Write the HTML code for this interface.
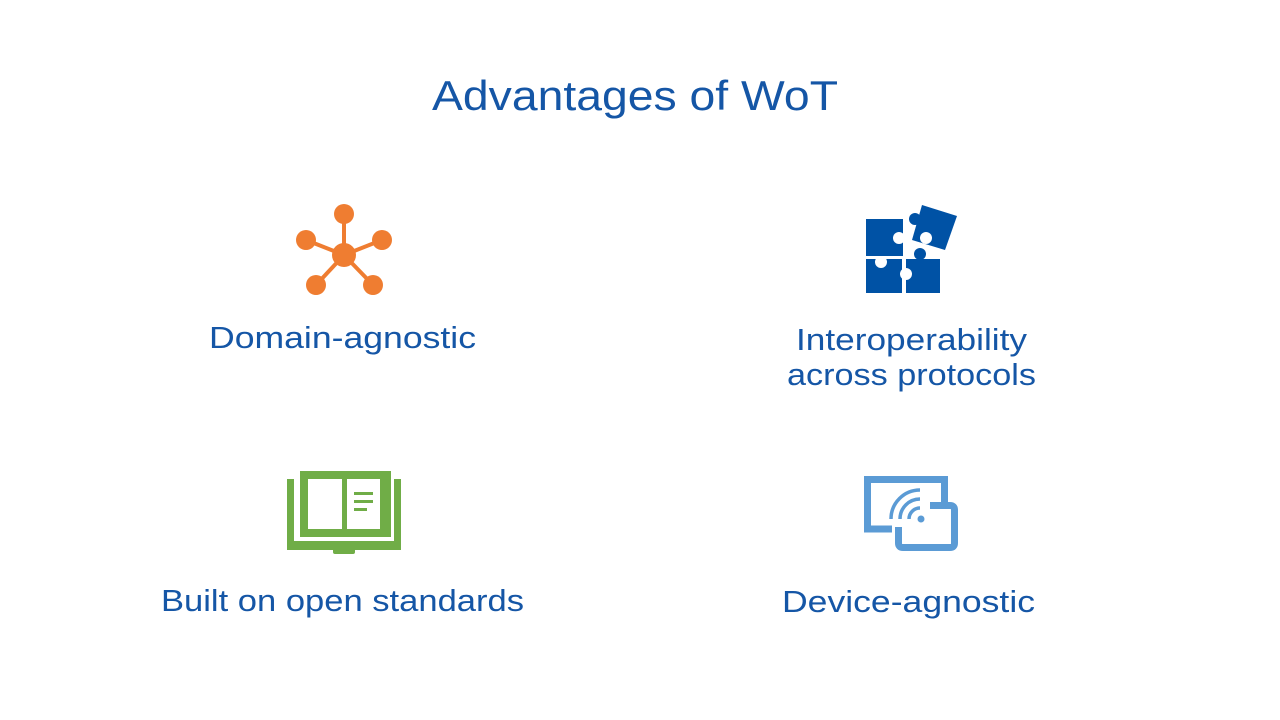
<!DOCTYPE html>
<html><head><meta charset="utf-8"><style>
html,body{margin:0;padding:0;background:#fff;width:1280px;height:720px;overflow:hidden}
svg{display:block}
text{font-family:"Liberation Sans",sans-serif;fill:#1556a6}
</style></head><body>
<svg width="1280" height="720" viewBox="0 0 1280 720">
<text x="432" y="110" font-size="42" textLength="406" lengthAdjust="spacingAndGlyphs">Advantages of WoT</text>

<!-- network -->
<g fill="#ef7d31" stroke="#ef7d31" stroke-width="4">
<line x1="344" y1="255" x2="344" y2="214"/><line x1="344" y1="255" x2="306" y2="240"/>
<line x1="344" y1="255" x2="382" y2="240"/><line x1="344" y1="255" x2="316" y2="285"/>
<line x1="344" y1="255" x2="373" y2="285"/>
<circle cx="344" cy="255" r="12" stroke="none"/>
<circle cx="344" cy="214" r="10" stroke="none"/><circle cx="306" cy="240" r="10" stroke="none"/>
<circle cx="382" cy="240" r="10" stroke="none"/><circle cx="316" cy="285" r="10" stroke="none"/>
<circle cx="373" cy="285" r="10" stroke="none"/>
</g>
<text x="209" y="348" font-size="31" textLength="267" lengthAdjust="spacingAndGlyphs">Domain-agnostic</text>

<!-- puzzle -->
<g fill="#0052a5">
<rect x="866" y="219" width="37" height="37"/>
<rect x="866" y="259" width="36" height="34"/>
<rect x="906" y="259" width="34" height="34"/>
<polygon points="922,205 957,216 945,250 912,240"/>
<circle cx="915" cy="219" r="6"/>
<circle cx="920" cy="254" r="6"/>
</g>
<g fill="#fff">
<circle cx="899" cy="238" r="6"/>
<circle cx="881" cy="262" r="6"/>
<circle cx="906" cy="274" r="6"/>
<circle cx="926" cy="238" r="6"/>
</g>
<text x="796" y="350" font-size="31" textLength="231" lengthAdjust="spacingAndGlyphs">Interoperability</text>
<text x="787" y="385" font-size="31" textLength="249" lengthAdjust="spacingAndGlyphs">across protocols</text>

<!-- book -->
<g fill="#70ad47">
<rect x="287" y="479" width="7" height="71"/>
<rect x="394" y="479" width="7" height="71"/>
<rect x="287" y="541" width="114" height="9"/>
<rect x="300" y="471" width="91" height="66"/>
<rect x="333" y="548" width="22" height="6" rx="2"/>
</g>
<g fill="#fff">
<rect x="308" y="479" width="34" height="50"/>
<rect x="347" y="479" width="33" height="50"/>
</g>
<g fill="#70ad47">
<rect x="354" y="492" width="19" height="3"/>
<rect x="354" y="500" width="19" height="3"/>
<rect x="354" y="508" width="13" height="3"/>
</g>
<text x="161" y="611" font-size="31" textLength="363" lengthAdjust="spacingAndGlyphs">Built on open standards</text>

<!-- device -->
<g fill="none" stroke="#5b9bd5" stroke-width="7">
<path d="M892,529 H867.5 V479.5 H944.5 V503"/>
<path d="M930,505.5 H950 Q954.5,505.5 954.5,510 V543 Q954.5,547.5 950,547.5 H903 Q898.5,547.5 898.5,543 V527"/>
</g>
<g fill="none" stroke="#5b9bd5" stroke-width="3.5">
<path d="M891,519 A29,29 0 0 1 920,490"/>
<path d="M900,519 A20,20 0 0 1 920,499"/>
<path d="M909,519 A11,11 0 0 1 920,508"/>
</g>
<circle cx="921" cy="519" r="3.5" fill="#5b9bd5"/>
<text x="782" y="612" font-size="31" textLength="253" lengthAdjust="spacingAndGlyphs">Device-agnostic</text>
</svg>
</body></html>
